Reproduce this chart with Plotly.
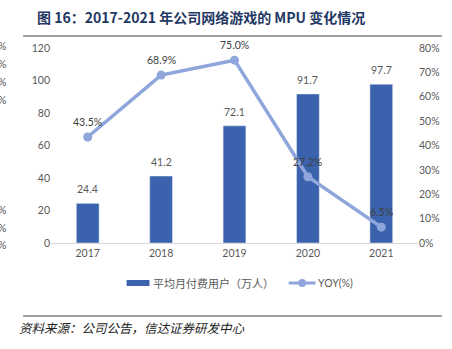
import plotly.graph_objects as go

years = ["2017", "2018", "2019", "2020", "2021"]
mpu = [24.4, 41.2, 72.1, 91.7, 97.7]
yoy = [0.435, 0.689, 0.750, 0.272, 0.065]
yoy_labels = ["43.5%", "68.9%", "75.0%", "27.2%", "6.5%"]
left_ticks = [0, 20, 40, 60, 80, 100, 120]
right_ticks = [0, 0.1, 0.2, 0.3, 0.4, 0.5, 0.6, 0.7, 0.8]

W, H = 452, 349
L, R, T, B = 51, 32, 48, 106
PW, PH = W - L - R, H - T - B

def to_px(x):
    return (x - L) / PW

def to_py(y):
    return (H - B - y) / PH

BAR = "#3A62AD"
LINE = "#8EA6DB"
GREY = "#595959"
FONT = "Lato, 'Noto Sans CJK SC', sans-serif"
CJK = "'Noto Sans CJK SC', sans-serif"

fig = go.Figure()
fig.add_trace(go.Bar(x=years, y=mpu, marker_color=BAR,
                     showlegend=False))
fig.add_trace(go.Scatter(x=years, y=yoy, yaxis="y2", mode="lines+markers",
                         line=dict(color=LINE, width=3.5),
                         marker=dict(color=LINE, size=9),
                         cliponaxis=False, showlegend=False))

annotations = []
for i, v in enumerate(mpu):
    annotations.append(dict(x=i, y=v, xref="x", yref="y", text=f"{v:.1f}",
                            showarrow=False, yshift=14,
                            font=dict(color=GREY, size=10.5, family=FONT)))
for i, (v, t) in enumerate(zip(yoy, yoy_labels)):
    annotations.append(dict(x=i, y=v, xref="x", yref="y2", text=t,
                            showarrow=False, yshift=15,
                            font=dict(color="#404040", size=10.5, family=FONT)))

annotations.append(dict(x=to_px(35), y=to_py(17), xref="paper", yref="paper",
                        xanchor="left", yanchor="middle", showarrow=False,
                        text="<b>图 16：2017-2021 年公司网络游戏的 MPU 变化情况</b>",
                        font=dict(color="#1F3864", size=14, family="'Noto Sans CJK SC', Arial, sans-serif")))
annotations.append(dict(x=to_px(152), y=to_py(283), xref="paper", yref="paper",
                        xanchor="left", yanchor="middle", showarrow=False,
                        text="平均月付费用户（万人）",
                        font=dict(color=GREY, size=11, family=CJK)))
annotations.append(dict(x=to_px(317), y=to_py(283), xref="paper", yref="paper",
                        xanchor="left", yanchor="middle", showarrow=False,
                        text="YOY(%)",
                        font=dict(color=GREY, size=10.5, family=FONT)))
annotations.append(dict(x=to_px(17), y=to_py(327), xref="paper", yref="paper",
                        xanchor="left", yanchor="middle", showarrow=False,
                        text="<i>资料来源：公司公告，信达证券研发中心</i>",
                        font=dict(color="#222222", size=12.5, family="'Noto Sans CJK SC', serif")))
for yy in [46, 64, 82, 100, 210, 228, 245]:
    annotations.append(dict(x=to_px(-4), y=to_py(yy), xref="paper", yref="paper",
                            xanchor="left", yanchor="middle", showarrow=False,
                            text="%", font=dict(color=GREY, size=10.5, family=FONT)))

shapes = [
    dict(type="line", xref="paper", yref="paper", x0=to_px(23), x1=to_px(444),
         y0=to_py(36), y1=to_py(36), line=dict(color="#7F7F7F", width=1.5)),
    dict(type="line", xref="paper", yref="paper", x0=to_px(23), x1=to_px(444),
         y0=to_py(316), y1=to_py(316), line=dict(color="#7F7F7F", width=1.5)),
    dict(type="rect", xref="paper", yref="paper", x0=to_px(127), x1=to_px(150),
         y0=to_py(286), y1=to_py(280), fillcolor=BAR, line=dict(width=0)),
    dict(type="line", xref="paper", yref="paper", x0=to_px(290), x1=to_px(317),
         y0=to_py(283), y1=to_py(283), line=dict(color=LINE, width=3)),
    dict(type="circle", xref="paper", yref="paper", x0=to_px(299.5), x1=to_px(307.5),
         y0=to_py(287), y1=to_py(279), fillcolor=LINE, line=dict(width=0)),
]

fig.update_layout(
    width=W, height=H,
    margin=dict(l=L, r=R, t=T, b=B),
    paper_bgcolor="white", plot_bgcolor="white",
    bargap=0.69,
    xaxis=dict(type="category", range=[-0.5, 4.5], showgrid=False, showline=True,
               linecolor="#D9D9D9", linewidth=1, ticks="",
               tickfont=dict(color=GREY, size=10.5, family=FONT)),
    yaxis=dict(range=[0, 120], tickvals=left_ticks, showgrid=False, zeroline=False,
               showline=False, ticks="",
               tickfont=dict(color=GREY, size=10.5, family=FONT)),
    yaxis2=dict(range=[0, 0.8], tickvals=right_ticks, tickformat=".0%",
                overlaying="y", side="right", showgrid=False, zeroline=False,
                showline=False, ticks="",
                tickfont=dict(color=GREY, size=10.5, family=FONT)),
    annotations=annotations,
    shapes=shapes,
    showlegend=False,
)

fig.write_html("out.html")
